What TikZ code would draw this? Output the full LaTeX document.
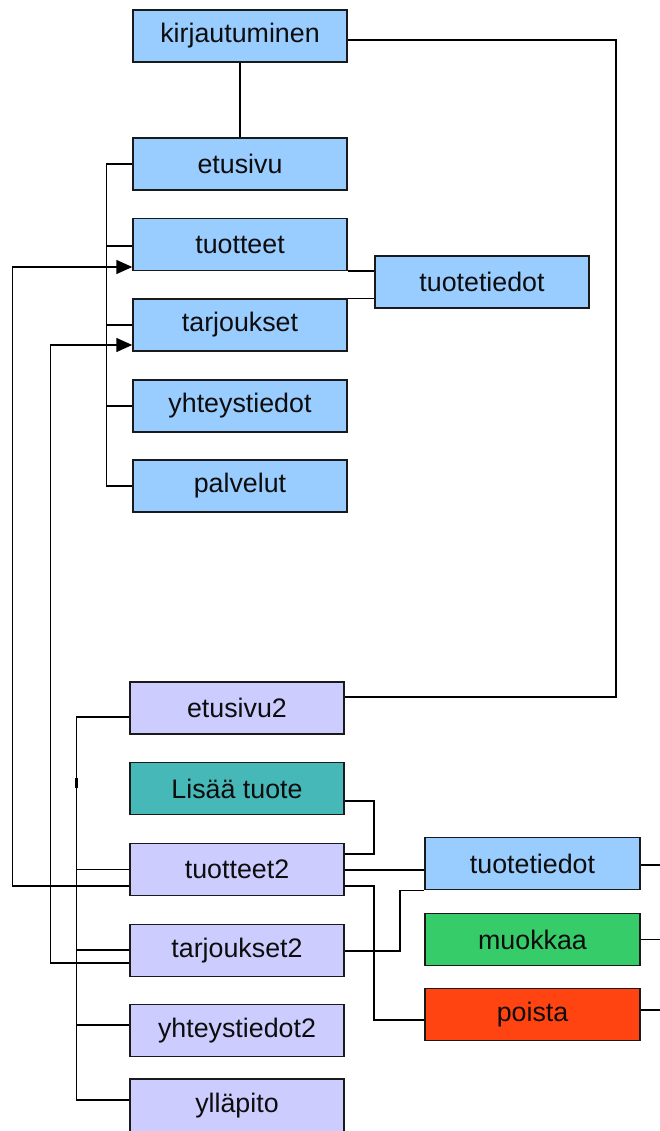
\documentclass[tikz,border=0pt]{standalone}
\usepackage{fontspec}
\setmainfont{Liberation Sans}
\usetikzlibrary{arrows.meta}
\definecolor{lblue}{HTML}{99CCFF}
\definecolor{lav}{HTML}{CCCCFF}
\definecolor{teal2}{HTML}{47B8B8}
\definecolor{grn}{HTML}{36CC6A}
\definecolor{red2}{HTML}{FF4411}
\definecolor{edge}{HTML}{1A1A1A}
\tikzset{
  box/.style={draw=edge, line width=1.5pt, minimum width=214pt, minimum height=52pt,
    inner sep=0pt, font=\fontsize{26.8}{30}\selectfont, text=black!95},
  bluebox/.style={box, fill=lblue},
  lavbox/.style={box, fill=lav},
  conn/.style={draw=black, line width=1.5pt},
  arr/.style={conn, -{Triangle[length=16pt,width=14pt]}}
}
\begin{document}
\begin{tikzpicture}[x=1pt,y=-1pt]
\useasboundingbox (0,0) rectangle (659,1131);
% upper part
\node[bluebox] (kirj) at (240,36) {kirjautuminen};
\node[bluebox] (etusivu) at (240,164) {etusivu};
\node[bluebox] (tuotteet) at (240,244.5) {tuotteet};
\node[bluebox] (tarjoukset) at (240,325) {tarjoukset};
\node[bluebox] (yhteys) at (240,406) {yhteystiedot};
\node[bluebox] (palvelut) at (240,486) {palvelut};
\node[bluebox] (tiedot) at (482,282) {tuotetiedot};
% lower part
\node[lavbox] (etusivu2) at (237,708) {etusivu2};
\node[box, fill=teal2] (lisaa) at (237,788.5) {Lisää tuote};
\node[lavbox] (tuotteet2) at (237,869.5) {tuotteet2};
\node[lavbox] (tarjoukset2) at (237,950.5) {tarjoukset2};
\node[lavbox] (yhteys2) at (237,1030.5) {yhteystiedot2};
\node[lavbox, minimum height=54pt] (yllapito) at (237,1106) {ylläpito};
\node[bluebox, minimum width=215pt] (tiedot2) at (532.5,863.5) {tuotetiedot};
\node[box, fill=grn, minimum width=215pt] (muokkaa) at (532.5,939.5) {muokkaa};
\node[box, fill=red2, minimum width=215pt] (poista) at (532.5,1014.5) {poista};
% connectors upper
\draw[conn] (kirj.south) -- (etusivu.north);
\draw[conn] ([yshift=-4pt]kirj.east) -- ++(268,0) |- ([yshift=11pt]etusivu2.east);
\draw[conn] (etusivu.west) -- ++(-26,0) |- (palvelut.west);
\draw[conn] ([yshift=-1.5pt]tuotteet.west) -- ++(-26,0);
\foreach \n in {tarjoukset,yhteys}
  \draw[conn] (\n.west) -- ++(-26,0);
\draw[conn] (tuotteet.south east) -- (tuotteet.south east -| tiedot.west);
\draw[conn] (tarjoukset.north east) -- (tarjoukset.north east -| tiedot.west);
% arrows
\draw[arr] ([yshift=-16.5pt]tuotteet2.west) -- ++(-117,0) |- ([yshift=-22.5pt]tuotteet.west);
\draw[arr] ([yshift=-12.5pt]tarjoukset2.west) -- ++(-79,0) |- ([yshift=-20pt]tarjoukset.west);
% lower bus
\draw[conn] ([yshift=-9pt]etusivu2.west) -- ++(-53,0) coordinate (busTop) |- ([yshift=6pt]yllapito.west);
\draw[conn] (tuotteet2.west) -- ++(-53,0);
\draw[conn] ([yshift=0.5pt]tarjoukset2.west) -- ++(-53,0);
\draw[conn] ([yshift=5.5pt]yhteys2.west) -- ++(-53,0);
\draw[line width=2.6pt] ([yshift=-61pt]busTop) -- ++(0,10);
% lower right connectors
\draw[conn] ([yshift=-12.5pt]lisaa.east) -- ++(29,0) |- ([yshift=15.5pt]tuotteet2.east);
\draw[conn] ([yshift=-0.5pt]tuotteet2.east) -- ([yshift=-0.5pt]tuotteet2.east -| tiedot2.west);
\draw[conn] ([yshift=-16.5pt]tuotteet2.east) -- ++(29,0) |- ([yshift=-5.5pt]poista.west);
\draw[conn] ([yshift=-0.5pt]tarjoukset2.east) -- ++(55,0) |- (tiedot2.south west);
\draw[conn] ([yshift=-1.5pt]tiedot2.east) -- ++(22,0);
\draw[conn] (muokkaa.east) -- ++(22,0);
\draw[conn] ([yshift=4.5pt]poista.east) -- ++(22,0);
\end{tikzpicture}
\end{document}
